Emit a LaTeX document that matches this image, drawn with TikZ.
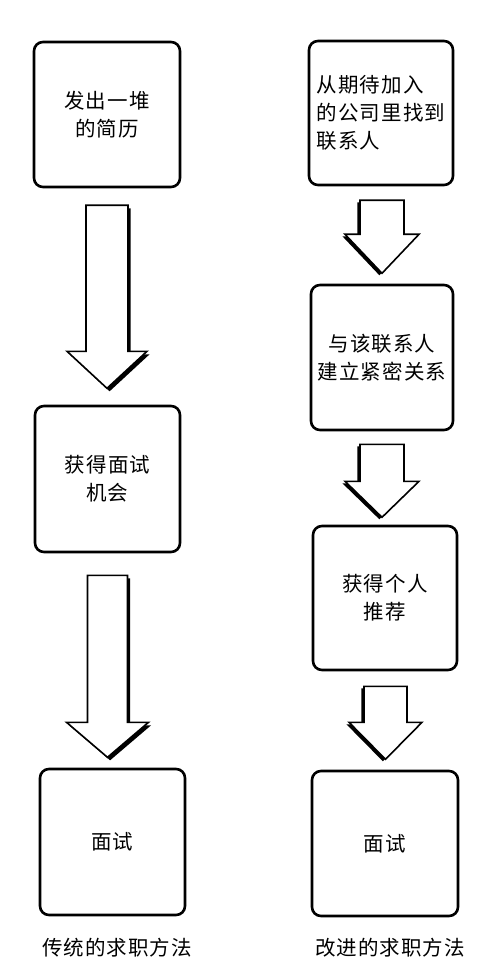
\documentclass[tikz,border=0pt]{standalone}
\usepackage{fontspec}
\newfontfamily\cjk[LetterSpace=5]{Noto Sans CJK SC}
\usetikzlibrary{calc,shadows}
\tikzset{
  stepcard/.style={draw=black,fill=white,line width=2.6pt,rounded corners=9pt,
    align=center,inner sep=0pt,font=\cjk\fontsize{20.5}{28}\selectfont},
  blockarrow/.style={draw=black,fill=white,line width=1.6pt,line join=miter},
  shaderight/.style={drop shadow={shadow xshift=2.6pt,shadow yshift=-3pt,fill=black,opacity=1}},
  shadeleft/.style={drop shadow={shadow xshift=-2.6pt,shadow yshift=-2pt,fill=black,opacity=1}},
  methodlabel/.style={inner sep=0pt,font=\cjk\fontsize{20.5}{28}\selectfont}
}
\begin{document}
\begin{tikzpicture}[x=1pt,y=-1pt]
  \useasboundingbox (0,0) rectangle (486,976);
  % traditional way
  \node[stepcard,minimum width=146pt,minimum height=145pt] (l1) at (107,114.5) {发出一堆\\的简历};
  \node[stepcard,minimum width=145pt,minimum height=146pt] (l2) at (107.5,479) {获得面试\\机会};
  \node[stepcard,minimum width=145pt,minimum height=146pt] (l3) at (112.5,842) {面试};
  \node[methodlabel] (lt) at (117,948) {传统的求职方法};
  % improved way
  \node[stepcard,minimum width=144pt,minimum height=144pt,align=left] (r1) at (381,113) {从期待加入\\的公司里找到\\联系人};
  \node[stepcard,minimum width=142pt,minimum height=145pt] (r2) at (382,357.5) {与该联系人\\建立紧密关系};
  \node[stepcard,minimum width=144pt,minimum height=144pt] (r3) at (385,598) {获得个人\\推荐};
  \node[stepcard,minimum width=146pt,minimum height=145pt] (r4) at (385,843.5) {面试};
  \node[methodlabel] (rt) at (390,948) {改进的求职方法};
  % block arrows
  \draw[blockarrow,shaderight] ($(l1.south)+(-21,17)$) -- ++(42,0) -- ++(0,146) -- ++(19,0)
    -- ++(-40,37) -- ++(-40,-37) -- ++(19,0) -- cycle;
  \draw[blockarrow,shaderight] ($(l2.south)+(-20,22)$) -- ++(40,0) -- ++(0,147) -- ++(21,0)
    -- ++(-41,35) -- ++(-41,-35) -- ++(21,0) -- cycle;
  \draw[blockarrow,shadeleft] ($(r1.south)+(-21,14)$) -- ++(44,0) -- ++(0,34) -- ++(15,0)
    -- ++(-37,39) -- ++(-37,-39) -- ++(15,0) -- cycle;
  \draw[blockarrow,shadeleft] ($(r2.south)+(-22,13)$) -- ++(44,0) -- ++(0,37) -- ++(15,0)
    -- ++(-37,36) -- ++(-37,-36) -- ++(15,0) -- cycle;
  \draw[blockarrow,shadeleft] ($(r3.south)+(-21,15)$) -- ++(43,0) -- ++(0,36) -- ++(15,0)
    -- ++(-36.5,37) -- ++(-36.5,-37) -- ++(15,0) -- cycle;
\end{tikzpicture}
\end{document}
